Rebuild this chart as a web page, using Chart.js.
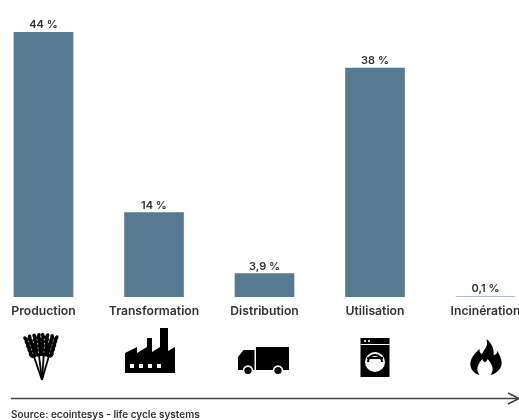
<!DOCTYPE html>
<html>
<head>
<meta charset="utf-8">
<script src="https://cdn.jsdelivr.net/npm/chart.js@4"></script>
<style>
  html, body { margin: 0; padding: 0; background: #fff; overflow: hidden; }
  #wrap { position: absolute; left: -30px; top: 0; width: 600px; height: 420px; }
</style>
</head>
<body>
<div id="wrap"><canvas id="chart" width="600" height="420"></canvas></div>
<script>
const categories = ['Production', 'Transformation', 'Distribution', 'Utilisation', 'Incinération'];
const values = [44, 14, 3.9, 38, 0.1];
const valueLabels = ['44 %', '14 %', '3,9 %', '38 %', '0,1 %'];
const sourceText = 'Source: ecointesys - life cycle systems';

const FONT = 'Inter, "Noto Sans", sans-serif';
const BAR = '#567a91';
const BAR_THIN = '#a9bfcc';
const TEXT = '#333333';
const ICON_Y = 355;

// icons, drawn around the centre of each category
function wheat(ctx) {
  ctx.translate(-1.5, 25);
  [-19, -7, 4, 16].forEach(deg => {
    ctx.save();
    ctx.rotate(deg * Math.PI / 180);
    ctx.fillRect(-0.9, -27, 1.8, 27);
    for (let i = 0; i < 5; i++) {
      const y = -27 - i * 4.2;
      [-1, 1].forEach(side => {
        ctx.beginPath();
        ctx.ellipse(side * 2, y, 1.9, 3.4, side * 0.3, 0, Math.PI * 2);
        ctx.fill();
      });
    }
    ctx.restore();
  });
}

function factory(ctx) {
  ctx.fill(new Path2D('M-29 18V-2L-17-8V-2L-7-8V-17H-2V-3L6-8V-27H14V-4L21-8V18Z'));
  ctx.fillStyle = '#fff';
  [-22, -13, -4, 5].forEach(x => ctx.fillRect(x - 2, 9, 4, 4));
}

function truck(ctx) {
  ctx.fill(new Path2D('M-8.5-8H24.5V15H-8.5ZM-26.5 15V2L-21-5H-10V15Z'));
  [-16.5, 13.5].forEach(x => {
    ctx.fillStyle = '#fff';
    ctx.beginPath(); ctx.arc(x, 15.5, 5.2, 0, Math.PI * 2); ctx.fill();
    ctx.fillStyle = '#000';
    ctx.beginPath(); ctx.arc(x, 15.5, 3.6, 0, Math.PI * 2); ctx.fill();
  });
}

function washer(ctx) {
  ctx.fillRect(-14.5, -17, 29, 39);
  ctx.fillStyle = '#fff';
  ctx.fillRect(-14.5, -11, 29, 1);
  ctx.beginPath(); ctx.arc(-10, -14, 1.1, 0, Math.PI * 2); ctx.arc(-6, -14, 1.1, 0, Math.PI * 2); ctx.fill();
  ctx.beginPath(); ctx.arc(0, 7, 10, 0, Math.PI * 2); ctx.fill();
  ctx.fillStyle = '#000';
  ctx.beginPath(); ctx.arc(0, 7, 8, Math.PI, Math.PI * 2); ctx.fill();
  ctx.fillStyle = '#fff';
  ctx.beginPath(); ctx.arc(0, 7, 6, Math.PI, Math.PI * 2); ctx.fill();
  ctx.fillStyle = '#000';
  ctx.fillRect(-8, 2, 16, 2);
}

function flame(ctx) {
  ctx.fill(new Path2D('M1-16C3-9 -1-6 -3-2C-4 0 -6-2 -6-6C-12-1 -16 5 -15 11C-14 16 -10 19 -6 20C-10 15 -8 9 -3 4C-2 8 1 8 2 4C7 9 9 15 5 20C10 19 15 15 16 10C17 5 14 0 12-4C11-1 10 0 8 0C9-6 6-12 1-16Z'));
}

const icons = [wheat, factory, truck, washer, flame];

const sketchExtras = {
  id: 'sketchExtras',
  afterDatasetsDraw(chart) {
    const { ctx, scales } = chart;
    const meta = chart.getDatasetMeta(0);
    ctx.save();
    // value labels above the bars
    ctx.font = '600 11px ' + FONT;
    ctx.fillStyle = TEXT;
    ctx.textAlign = 'center';
    ctx.textBaseline = 'alphabetic';
    meta.data.forEach((bar, i) => ctx.fillText(valueLabels[i], bar.x, bar.y - 4));

    // icons under the category names
    categories.forEach((c, i) => {
      ctx.save();
      ctx.translate(scales.x.getPixelForValue(i), ICON_Y);
      ctx.fillStyle = '#000';
      icons[i](ctx);
      ctx.restore();
    });

    // process arrow
    ctx.strokeStyle = '#444';
    ctx.lineWidth = 1.6;
    ctx.beginPath();
    ctx.moveTo(41, 398.5);
    ctx.lineTo(548, 398.5);
    ctx.moveTo(538, 393);
    ctx.lineTo(549, 398.5);
    ctx.lineTo(538, 404);
    ctx.stroke();

    ctx.font = '600 10px ' + FONT;
    ctx.textAlign = 'left';
    ctx.fillStyle = TEXT;
    ctx.fillText(sourceText, 41, 418);
    ctx.restore();
  }
};

new Chart(document.getElementById('chart'), {
  type: 'bar',
  data: {
    labels: categories,
    datasets: [{
      data: values,
      backgroundColor: values.map(v => v < 1 ? BAR_THIN : BAR),
      borderWidth: 0,
      barThickness: 59
    }]
  },
  options: {
    responsive: false,
    animation: false,
    layout: { padding: { left: 18.25, right: 29.25, top: 32, bottom: 0 } },
    plugins: { legend: { display: false }, tooltip: { enabled: false } },
    scales: {
      x: {
        grid: { display: false, drawTicks: false },
        border: { display: false },
        afterFit(scale) { scale.height = 123; },
        ticks: {
          autoSkip: false,
          maxRotation: 0,
          padding: 7,
          color: TEXT,
          font: { family: FONT, size: 12.2, weight: '600' }
        }
      },
      y: { display: false, min: 0, max: 44 }
    }
  },
  plugins: [sketchExtras]
});
</script>
</body>
</html>
